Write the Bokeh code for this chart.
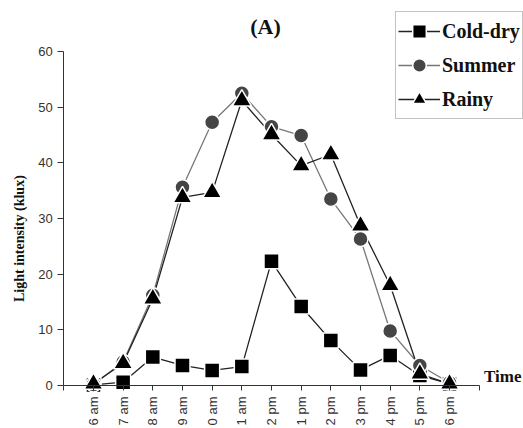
import math
from bokeh.plotting import figure
from bokeh.models import Range1d, FixedTicker, Label, Legend, LegendItem
from bokeh.embed import file_html
from bokeh.resources import INLINE

times = ["6 am", "7 am", "8 am", "9 am", "0 am", "1 am", "2 pm",
         "1 pm", "2 pm", "3 pm", "4 pm", "5 pm", "6 pm"]
cold_dry = [0.1, 0.6, 5.1, 3.6, 2.7, 3.4, 22.3, 14.2, 8.1, 2.8, 5.4, 1.8, 0.3]
summer = [0.2, 4.2, 16.2, 35.6, 47.3, 52.5, 46.5, 44.9, 33.5, 26.3, 9.8, 3.6, 0.5]
rainy = [0.3, 4.0, 15.6, 33.8, 34.7, 51.2, 45.1, 39.5, 41.5, 28.7, 18.0, 2.1, 0.3]
y_ticks = [0, 10, 20, 30, 40, 50, 60]

xs = list(range(1, len(times) + 1))
x_end = len(times) + 1

# frame covers the whole canvas; axes sit at fixed locations inside it
p = figure(width=523, height=428,
           x_range=Range1d(-2.1334, 15.493), y_range=Range1d(-7.7246, 69.162),
           output_backend="svg", toolbar_location=None,
           min_border_left=0, min_border_right=0,
           min_border_top=0, min_border_bottom=0)
p.grid.visible = False
p.outline_line_color = None
p.background_fill_color = "white"
p.border_fill_color = "white"

SERIF = "Liberation Serif"
SANS = "Liberation Sans"

# x axis
xa = p.xaxis[0]
xa.fixed_location = 0
xa.bounds = (0, x_end)
xa.ticker = FixedTicker(ticks=list(range(0, x_end + 1)))
overrides = {0: "", x_end: ""}
for xi, t in zip(xs, times):
    overrides[xi] = t
xa.major_label_overrides = overrides
xa.major_label_orientation = math.pi / 2
xa.major_label_text_font = SANS
xa.major_label_text_font_size = "13px"
xa.major_label_text_color = "#333333"
xa.major_label_standoff = 6
xa.major_tick_out = 5
xa.major_tick_in = 0
xa.minor_tick_line_color = None
xa.axis_line_color = "#333333"
xa.major_tick_line_color = "#333333"

# y axis
ya = p.yaxis[0]
ya.fixed_location = 0
ya.ticker = FixedTicker(ticks=y_ticks)
ya.bounds = (0, 60)
ya.major_label_text_font = SANS
ya.major_label_text_font_size = "13px"
ya.major_label_text_color = "#333333"
ya.major_label_standoff = 5
ya.major_tick_out = 6
ya.major_tick_in = 0
ya.minor_tick_line_color = None
ya.axis_line_color = "#333333"
ya.major_tick_line_color = "#333333"

# y axis title (text starts at its bottom end and reads upward)
ylab = Label(x=-1.493, y=15.0, text="Light intensity (klux)", text_font=SERIF,
             text_font_style="bold", text_font_size="14px",
             text_align="left", text_baseline="middle",
             angle=math.pi / 2, text_color="#111111")
p.add_layout(ylab)

# lines
l_cold = p.line(xs, cold_dry, line_color="#222222", line_width=1.3)
l_sum = p.line(xs, summer, line_color="#777777", line_width=1.3)
l_rain = p.line(xs, rainy, line_color="#222222", line_width=1.3)

# markers
m_cold = p.scatter(xs, cold_dry, marker="square", size=15,
                   fill_color="black", line_color="white", line_width=1.5)
m_sum = p.scatter(xs, summer, marker="circle", size=15,
                  fill_color="#454545", line_color="white", line_width=1.5)
m_rain = p.scatter(xs, rainy, marker="triangle", size=19,
                   fill_color="black", line_color="white", line_width=1.5)

legend = Legend(items=[
    LegendItem(label="Cold-dry", renderers=[l_cold, m_cold]),
    LegendItem(label="Summer", renderers=[l_sum, m_sum]),
    LegendItem(label="Rainy", renderers=[l_rain, m_rain]),
], location=(395, 309))
legend.label_text_font = SERIF
legend.label_text_font_style = "bold"
legend.label_text_font_size = "20px"
legend.label_text_color = "#111111"
legend.glyph_width = 42
legend.glyph_height = 34
legend.label_height = 34
legend.label_standoff = 2
legend.spacing = 0
legend.padding = 2
legend.margin = 0
legend.border_line_color = "#888888"
legend.border_line_width = 1
legend.background_fill_color = "white"
legend.background_fill_alpha = 1.0
p.add_layout(legend)

title = Label(x=6.798, y=64.49, text="(A)", text_font=SERIF,
              text_font_style="bold", text_font_size="22px",
              text_align="center", text_baseline="middle",
              text_color="#111111")
p.add_layout(title)

time_lbl = Label(x=15.426, y=1.62, text="Time", text_font=SERIF,
                 text_font_style="bold", text_font_size="17px",
                 text_align="right", text_baseline="middle",
                 text_color="#111111")
p.add_layout(time_lbl)

open("out.html", "w").write(file_html(p, INLINE))
